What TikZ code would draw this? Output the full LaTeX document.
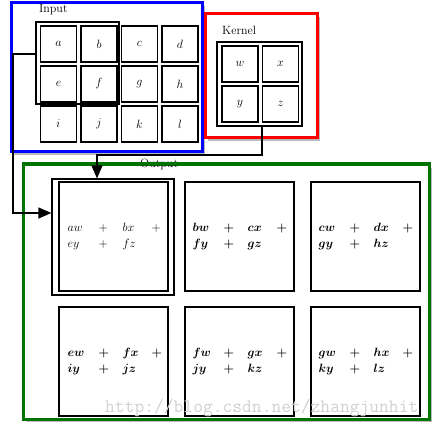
\documentclass[tikz,border=0pt]{standalone}
\usetikzlibrary{shadows,arrows.meta,calc}
\begin{document}
\begin{tikzpicture}[x=1pt,y=-1pt,
  frame/.style={draw,line width=3pt,fill=white,inner sep=0pt,
    drop shadow={shadow xshift=3pt,shadow yshift=-3pt,opacity=.45,fill=black!60}},
  incell/.style={draw,line width=1.5pt,minimum size=36pt,inner sep=0pt,font=\fontsize{11.5}{13}\selectfont},
  winbox/.style={draw,line width=1.2pt,inner sep=0pt},
  outcell/.style={draw,line width=1.2pt,minimum size=109pt,inner sep=0pt},
  lbl/.style={anchor=west,inner sep=0pt,font=\fontsize{12}{14}\selectfont},
  expr/.style={anchor=west,inner sep=0pt,align=left,font=\fontsize{12}{16}\selectfont},
  bexpr/.style={expr,font=\fontsize{11.5}{16}\selectfont\boldmath},
  conn/.style={line width=1.2pt,-{Triangle[length=13pt,width=11pt]}},
  wm/.style={font=\fontsize{19}{20}\selectfont\ttfamily,text=black!18,inner sep=0pt}]
\newcommand\exprline[3]{\makebox[31pt][l]{$#1$}\makebox[24pt][l]{$+$}\makebox[29pt][l]{$#2$}$#3$}
\useasboundingbox (0,0) rectangle (436,427);
% frames
\node[frame,draw=blue,minimum width=191pt,minimum height=149pt] (inframe) at (106.5,77.5) {};
\node[frame,draw=red,minimum width=112pt,minimum height=124pt] (kframe) at (261,76) {};
\node[frame,draw=black!55!green,minimum width=406pt,minimum height=254pt] (oframe) at (226,292) {};
% labels
\node[lbl] (inlbl) at (39,10) {Input};
\node[lbl] (klbl) at (222,30) {Kernel};
\node[lbl] (olbl) at (140,164) {Output};
\draw[line width=3pt,black!55!green] (oframe.north west) -- (oframe.north east);
% input cells
\foreach \t [count=\i from 0] in {a,b,c,d,e,f,g,h,i,j,k,l}{
  \pgfmathtruncatemacro\cc{mod(\i,4)}
  \pgfmathtruncatemacro\rr{div(\i,4)}
  \node[incell] (in\t) at (58.5+40.5*\cc,44+40*\rr) {$\t$};
}
\node[winbox,minimum width=83pt,minimum height=82pt] (win) at (77.5,63) {};
% kernel cells
\node[incell] (kw) at (240,64) {$w$};
\node[incell] (kx) at (280.5,64) {$x$};
\node[incell] (ky) at (240,104) {$y$};
\node[incell] (kz) at (280.5,104) {$z$};
\node[winbox,minimum width=85pt,minimum height=84pt] (kbox) at (259.5,84) {};
% output cells
\node[winbox,minimum width=122pt,minimum height=116pt] (o1out) at (113,237) {};
\node[outcell] (o1) at (113.5,236.5) {};
\node[outcell] (o2) at (239.5,236.5) {};
\node[outcell] (o3) at (365.5,236.5) {};
\node[outcell] (o4) at (113.5,361.5) {};
\node[outcell] (o5) at (239.5,361.5) {};
\node[outcell] (o6) at (365.5,361.5) {};
\node[expr] (e1) at ($(o1.west)+(9,0)$) {\exprline{aw}{bx}{+}\\\exprline{ey}{fz}{}};
\node[bexpr] (e2) at ($(o2.west)+(8,0)$) {\exprline{bw}{cx}{+}\\\exprline{fy}{gz}{}};
\node[bexpr] (e3) at ($(o3.west)+(8,0)$) {\exprline{cw}{dx}{+}\\\exprline{gy}{hz}{}};
\node[bexpr] (e4) at ($(o4.west)+(9,0)$) {\exprline{ew}{fx}{+}\\\exprline{iy}{jz}{}};
\node[bexpr] (e5) at ($(o5.west)+(8,0)$) {\exprline{fw}{gx}{+}\\\exprline{jy}{kz}{}};
\node[bexpr] (e6) at ($(o6.west)+(8,0)$) {\exprline{gw}{hx}{+}\\\exprline{ky}{lz}{}};
% connectors
\coordinate (c1) at (13,54);
\coordinate (c2) at (13,213);
\coordinate (c3) at (262,155);
\coordinate (c4) at (97,155);
\draw[conn] (win.west |- c1) -- (c1) -- (c2) -- (o1out.west |- c2);
\draw[conn] (kbox.south -| c3) -- (c3) -- (c4) -- (o1out.north -| c4);
% watermark
\node[wm,anchor=west] (wmark) at (105,408) {http://blog.csdn.net/zhangjunhit};
\end{tikzpicture}
\end{document}
